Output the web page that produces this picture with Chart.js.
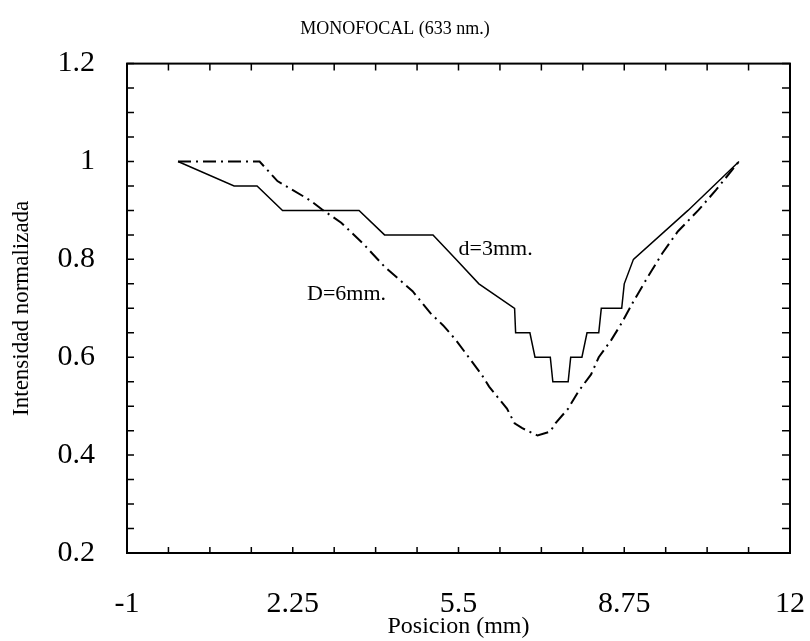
<!DOCTYPE html>
<html>
<head>
<meta charset="utf-8">
<script src="https://cdn.jsdelivr.net/npm/chart.js@4.4.0/dist/chart.umd.min.js"></script>
<style>
  html, body { margin: 0; padding: 0; background: #fff; }
</style>
</head>
<body>
<canvas id="c" width="810" height="641"></canvas>
<script>
// d = 3mm (solid, stepped)
const posSmall = [0, 1.1, 1.55, 2.05, 3.55, 4.05, 5.0, 5.45, 5.9, 6.6, 6.62, 6.9, 7.0, 7.3, 7.35, 7.65, 7.7, 7.92, 8.02, 8.25, 8.3, 8.7, 8.75, 8.93, 10.0, 11.0];
const intSmall = [1.0, 0.95, 0.95, 0.9, 0.9, 0.85, 0.85, 0.8, 0.75, 0.7, 0.65, 0.65, 0.6, 0.6, 0.55, 0.55, 0.6, 0.6, 0.65, 0.65, 0.7, 0.7, 0.75, 0.8, 0.9, 1.0];

// D = 6mm (dash-dot)
const posLarge = [0, 1.6, 1.95, 2.6, 2.85, 3.2, 3.65, 4.05, 4.6, 4.95, 5.2, 5.45, 5.95, 6.1, 6.45, 6.6, 6.75, 7.05, 7.3, 7.4, 7.65, 7.85, 8.1, 8.25, 8.5, 8.7, 8.93, 9.2, 9.5, 9.8, 10.2, 10.55, 11.0];
const intLarge = [1.0, 1.0, 0.96, 0.92, 0.9, 0.875, 0.83, 0.785, 0.735, 0.69, 0.665, 0.635, 0.565, 0.54, 0.495, 0.465, 0.455, 0.44, 0.448, 0.465, 0.495, 0.53, 0.565, 0.6, 0.636, 0.67, 0.714, 0.762, 0.813, 0.857, 0.9, 0.942, 1.0];

const xTicks = [-1, 2.25, 5.5, 8.75, 12];
const yTicks = [0.2, 0.4, 0.6, 0.8, 1, 1.2];

const serif = '"Liberation Serif", "Times New Roman", serif';
Chart.defaults.font.family = serif;
Chart.defaults.color = '#000';

const toPts = (xs, ys) => xs.map((v, i) => ({ x: v, y: ys[i] }));

// frame, inward ticks on all four sides and the curve labels
const frameTicks = {
  id: 'frameTicks',
  afterDatasetsDraw(chart) {
    const { ctx, chartArea: a, scales: { x, y } } = chart;
    ctx.save();
    ctx.strokeStyle = '#000';
    ctx.lineWidth = 2;
    ctx.strokeRect(a.left, a.top, a.right - a.left, a.bottom - a.top);

    ctx.lineWidth = 1.5;
    ctx.beginPath();
    const xStep = (xTicks[1] - xTicks[0]) / 4;
    for (let v = xTicks[0]; v <= xTicks[xTicks.length - 1] + 1e-6; v += xStep) {
      const px = x.getPixelForValue(v);
      ctx.moveTo(px, a.bottom); ctx.lineTo(px, a.bottom - 6);
      ctx.moveTo(px, a.top); ctx.lineTo(px, a.top + 7);
    }
    const yStep = (yTicks[1] - yTicks[0]) / 4;
    for (let v = yTicks[0]; v <= yTicks[yTicks.length - 1] + 1e-6; v += yStep) {
      const py = y.getPixelForValue(v);
      ctx.moveTo(a.left, py); ctx.lineTo(a.left + 7, py);
      ctx.moveTo(a.right, py); ctx.lineTo(a.right - 8, py);
    }
    ctx.stroke();

    ctx.fillStyle = '#000';
    ctx.font = '22px ' + serif;
    ctx.textBaseline = 'middle';
    ctx.fillText('d=3mm.', x.getPixelForValue(5.5), y.getPixelForValue(0.82));
    ctx.fillText('D=6mm.', x.getPixelForValue(2.53), y.getPixelForValue(0.728));
    ctx.restore();
  }
};

new Chart(document.getElementById('c'), {
  type: 'scatter',
  data: {
    datasets: [
      {
        label: 'd=3mm.',
        data: toPts(posSmall, intSmall),
        showLine: true,
        borderColor: '#000',
        borderWidth: 1.5,
        pointRadius: 0,
        tension: 0
      },
      {
        label: 'D=6mm.',
        data: toPts(posLarge, intLarge),
        showLine: true,
        borderColor: '#000',
        borderWidth: 2,
        borderDash: [13, 5, 2, 5],
        pointRadius: 0,
        tension: 0
      }
    ]
  },
  options: {
    responsive: false,
    animation: false,
    layout: { padding: { left: 0, right: 20, top: 0, bottom: 0 } },
    plugins: {
      legend: { display: false },
      tooltip: { enabled: false },
      title: {
        display: true,
        text: 'MONOFOCAL (633 nm.)',
        color: '#000',
        font: { size: 18, weight: 'normal' },
        padding: { top: 18, bottom: 24 }
      }
    },
    scales: {
      x: {
        type: 'linear',
        min: -1,
        max: 12,
        grid: { display: false, drawTicks: false },
        border: { display: true, color: '#000', width: 2 },
        afterBuildTicks: s => { s.ticks = xTicks.map(v => ({ value: v })); },
        ticks: { font: { size: 30 }, padding: 33, maxRotation: 0, autoSkip: false, callback: v => String(v) },
        title: { display: true, text: 'Posicion (mm)', font: { size: 24 }, padding: { top: 0, bottom: 0 } },
        afterFit: s => { s.height = 88; s.paddingLeft = 0; s.paddingRight = 0; }
      },
      y: {
        type: 'linear',
        min: 0.2,
        max: 1.2,
        grid: { display: false, drawTicks: false },
        border: { display: true, color: '#000', width: 2 },
        afterBuildTicks: s => { s.ticks = yTicks.map(v => ({ value: v })); },
        ticks: { font: { size: 30 }, padding: 32, autoSkip: false, callback: v => String(v) },
        title: { display: true, text: 'Intensidad normalizada', font: { size: 23 }, padding: { top: 8, bottom: 0 } },
        afterFit: s => { s.width = 127; }
      }
    }
  },
  plugins: [frameTicks]
});
</script>
</body>
</html>
